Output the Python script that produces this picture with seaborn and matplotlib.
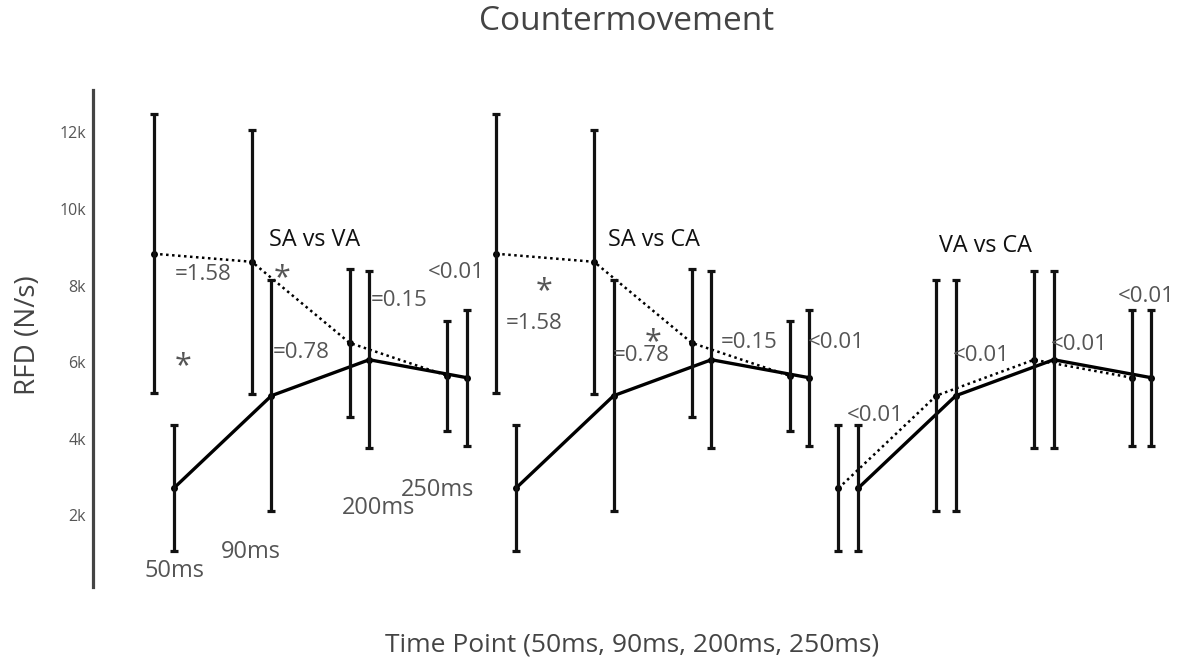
import matplotlib
matplotlib.use("Agg")
import matplotlib.pyplot as plt
import numpy as np
import pandas as pd
import seaborn as sns

# Time points and comparison panels
time_points = ["50ms", "90ms", "200ms", "250ms"]
comparisons = ["SA vs VA", "SA vs CA", "VA vs CA"]

# Mean RFD (N/s) and SD per condition
sa_mean = [8830, 8620, 6500, 5640]
sa_sd = [3640, 3450, 1940, 1430]
va_mean = [2700, 5120, 6060, 5590]
va_sd = [1650, 3020, 2320, 1780]
ca_mean = [2700, 5120, 6060, 5590]
ca_sd = [1650, 3020, 2320, 1780]

# p-value / effect labels per panel
p_labels_sa_va = ["=1.58", "=0.78", "=0.15", "<0.01"]
p_labels_sa_ca = ["=1.58", "=0.78", "=0.15", "<0.01"]
p_labels_va_ca = ["<0.01", "<0.01", "<0.01", "<0.01"]

panel_series = [
    ((sa_mean, sa_sd), (va_mean, va_sd)),
    ((sa_mean, sa_sd), (ca_mean, ca_sd)),
    ((va_mean, va_sd), (ca_mean, ca_sd)),
]

GROUP_GAP = 3.5
PAIR_OFFSET = 0.2

sns.set_style("white")
plt.rcParams["font.family"] = ["Open Sans", "DejaVu Sans"]

fig = plt.figure(figsize=(11.78, 6.63), dpi=100)
ax = fig.add_axes([93 / 1178, 1 - 587 / 663, (1166 - 93) / 1178, (587 - 90) / 663])

rows = []
for g, (first, second) in enumerate(panel_series):
    for s, (mean, sd) in enumerate((first, second)):
        for i, t in enumerate(time_points):
            rows.append({"x": i + GROUP_GAP * g + PAIR_OFFSET * s,
                         "rfd": mean[i], "sd": sd[i],
                         "panel": comparisons[g], "role": s})
df = pd.DataFrame(rows)

line_styles = {0: dict(linestyle=(0, (1.0, 1.4)), linewidth=1.8),
               1: dict(linestyle="-", linewidth=2.4)}

for (panel, role), sub in df.groupby(["panel", "role"], sort=False):
    sns.lineplot(data=sub, x="x", y="rfd", ax=ax, color="black",
                 marker="o", markersize=5, markeredgewidth=0,
                 estimator=None, sort=False, legend=False, **line_styles[role])
    ax.errorbar(sub["x"], sub["rfd"], yerr=sub["sd"], fmt="none",
                ecolor="#111111", elinewidth=2.3, capsize=3.0, capthick=2.3,
                zorder=3)

ax.set_xlim(-0.625, 10.35)
ax.set_ylim(120, 13110)
ax.set_xticks([])
yt = [2000, 4000, 6000, 8000, 10000, 12000]
ax.set_yticks(yt)
ax.set_yticklabels([f"{v // 1000}k" for v in yt], color="#555555", fontsize=11.5)
ax.tick_params(axis="y", length=0, pad=5)
ax.set_xlabel("")
ax.set_ylabel("")
for side in ["top", "right", "bottom"]:
    ax.spines[side].set_visible(False)
ax.spines["left"].set_color("#444444")
ax.spines["left"].set_linewidth(2.3)

grey = "#555555"
pkw = dict(color=grey, fontsize=16, ha="center", va="center")
skw = dict(color=grey, fontsize=22, ha="center", va="center")
hkw = dict(color="#111111", fontsize=16.8, ha="center", va="center")
tkw = dict(color=grey, fontsize=17, ha="center", va="center")

# Panel 1: SA vs VA
ax.text(1.64, 9190, comparisons[0], **hkw)
ax.text(0.50, 8300, p_labels_sa_va[0], **pkw)
ax.text(1.50, 6260, p_labels_sa_va[1], **pkw)
ax.text(2.51, 7620, p_labels_sa_va[2], **pkw)
ax.text(3.09, 8350, p_labels_sa_va[3], **pkw)
ax.text(0.30, 5900, "*", **skw)
ax.text(1.31, 8180, "*", **skw)
ax.text(0.205, 540, time_points[0], **tkw)
ax.text(0.99, 1030, time_points[1], **tkw)
ax.text(2.30, 2180, time_points[2], **tkw)
ax.text(2.90, 2650, time_points[3], **tkw)

# Panel 2: SA vs CA
ax.text(5.11, 9190, comparisons[1], **hkw)
ax.text(3.89, 7020, p_labels_sa_ca[0], **pkw)
ax.text(4.98, 6180, p_labels_sa_ca[1], **pkw)
ax.text(6.09, 6500, p_labels_sa_ca[2], **pkw)
ax.text(6.98, 6500, p_labels_sa_ca[3], **pkw)
ax.text(3.99, 7840, "*", **skw)
ax.text(5.10, 6520, "*", **skw)

# Panel 3: VA vs CA
ax.text(8.50, 9030, comparisons[2], **hkw)
ax.text(7.38, 4610, p_labels_va_ca[0], **pkw)
ax.text(8.46, 6180, p_labels_va_ca[1], **pkw)
ax.text(9.46, 6470, p_labels_va_ca[2], **pkw)
ax.text(10.15, 7700, p_labels_va_ca[3], **pkw)

fig.text(627 / 1178, 1 - 22 / 663, "Countermovement", color="#444444",
         fontsize=24, ha="center", va="center")
fig.text(632 / 1178, 1 - 645 / 663, "Time Point (50ms, 90ms, 200ms, 250ms)",
         color="#444444", fontsize=19, ha="center", va="center")
fig.text(28 / 1178, 1 - 335 / 663, "RFD (N/s)", color="#444444", fontsize=20,
         rotation=90, ha="center", va="center")

fig.savefig("out.png", dpi=100)
